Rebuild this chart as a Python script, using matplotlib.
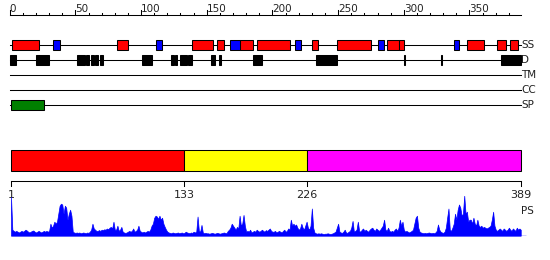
import matplotlib
matplotlib.use('Agg')
import matplotlib.pyplot as plt
from matplotlib.patches import Rectangle
import numpy as np

# sequence length and feature tracks (residue coordinates)
seq_len = 389
ss_helix = [(2, 22), (82, 90), (139, 155), (158, 163), (175, 185), (188, 213),
            (230, 235), (249, 275), (287, 296), (296, 300), (348, 361),
            (371, 378), (381, 387)]
ss_strand = [(33, 38), (111, 116), (168, 175), (217, 222), (280, 285), (338, 342)]
disorder = [(0, 5), (20, 30), (51, 57), (58, 60), (62, 64), (65, 67), (69, 71),
            (101, 108), (123, 125), (126, 127), (130, 135), (136, 139), (153, 156),
            (159, 161), (185, 192), (233, 249), (300, 301), (328, 329), (374, 389)]
tm = []
cc = []
signal = [(1, 26)]
track_names = ['SS', 'D', 'TM', 'CC', 'SP']

# domains
domain_bounds = [1, 133, 226, 389]
domain_colors = ['#ff0000', '#ffff00', '#ff00ff']

# PS score per residue
ps = [0.97, 0.15, 0.12, 0.10, 0.12, 0.10, 0.08, 0.10, 0.12, 0.10,
      0.12, 0.15, 0.13, 0.10, 0.08, 0.10, 0.12, 0.13, 0.10, 0.08,
      0.10, 0.12, 0.10, 0.08, 0.10, 0.12, 0.10, 0.12, 0.10, 0.12,
      0.30, 0.20, 0.25, 0.35, 0.30, 0.35, 0.55, 0.75, 0.80, 0.78,
      0.55, 0.75, 0.70, 0.40, 0.55, 0.65, 0.50, 0.10, 0.08, 0.07,
      0.08, 0.07, 0.08, 0.06, 0.07, 0.08, 0.07, 0.06, 0.08, 0.07,
      0.10, 0.15, 0.30, 0.18, 0.15, 0.12, 0.12, 0.14, 0.12, 0.15,
      0.14, 0.16, 0.15, 0.18, 0.16, 0.20, 0.22, 0.18, 0.35, 0.15,
      0.15, 0.25, 0.12, 0.15, 0.22, 0.10, 0.08, 0.07, 0.08, 0.10,
      0.12, 0.10, 0.12, 0.18, 0.10, 0.12, 0.15, 0.25, 0.12, 0.10,
      0.08, 0.10, 0.08, 0.10, 0.12, 0.10, 0.15, 0.25, 0.30, 0.45,
      0.50, 0.48, 0.42, 0.50, 0.40, 0.45, 0.30, 0.22, 0.15, 0.10,
      0.08, 0.07, 0.06, 0.08, 0.07, 0.06, 0.07, 0.08, 0.06, 0.07,
      0.08, 0.06, 0.07, 0.10, 0.08, 0.07, 0.06, 0.08, 0.07, 0.10,
      0.08, 0.10, 0.48, 0.12, 0.10, 0.27, 0.08, 0.06, 0.07, 0.06,
      0.06, 0.05, 0.06, 0.07, 0.06, 0.05, 0.06, 0.07, 0.06, 0.05,
      0.06, 0.07, 0.08, 0.07, 0.06, 0.12, 0.15, 0.20, 0.30, 0.25,
      0.20, 0.15, 0.22, 0.18, 0.50, 0.25, 0.30, 0.52, 0.25, 0.10,
      0.12, 0.10, 0.15, 0.08, 0.10, 0.12, 0.10, 0.15, 0.12, 0.10,
      0.12, 0.15, 0.12, 0.10, 0.14, 0.12, 0.15, 0.18, 0.12, 0.10,
      0.10, 0.12, 0.08, 0.10, 0.12, 0.10, 0.08, 0.12, 0.15, 0.10,
      0.12, 0.18, 0.15, 0.40, 0.25, 0.30, 0.25, 0.28, 0.20, 0.15,
      0.18, 0.30, 0.20, 0.15, 0.25, 0.35, 0.20, 0.15, 0.25, 0.68,
      0.20, 0.08, 0.06, 0.05, 0.06, 0.05, 0.06, 0.05, 0.04, 0.05,
      0.05, 0.06, 0.05, 0.04, 0.05, 0.06, 0.08, 0.10, 0.20, 0.30,
      0.10, 0.08, 0.07, 0.10, 0.15, 0.08, 0.07, 0.10, 0.12, 0.20,
      0.37, 0.10, 0.12, 0.15, 0.35, 0.12, 0.10, 0.15, 0.18, 0.12,
      0.15, 0.12, 0.10, 0.15, 0.18, 0.20, 0.15, 0.12, 0.18, 0.15,
      0.12, 0.15, 0.20, 0.25, 0.40, 0.15, 0.12, 0.20, 0.12, 0.10,
      0.12, 0.10, 0.15, 0.18, 0.12, 0.20, 0.40, 0.25, 0.35, 0.15,
      0.10, 0.12, 0.10, 0.08, 0.10, 0.12, 0.15, 0.30, 0.45, 0.50,
      0.20, 0.10, 0.08, 0.07, 0.06, 0.07, 0.06, 0.07, 0.08, 0.07,
      0.06, 0.07, 0.06, 0.08, 0.12, 0.28, 0.15, 0.10, 0.08, 0.07,
      0.10, 0.20, 0.45, 0.68, 0.15, 0.12, 0.20, 0.30, 0.55, 0.40,
      0.65, 0.78, 0.70, 0.50, 0.55, 1.00, 0.55, 0.60, 0.35, 0.40,
      0.40, 0.30, 0.45, 0.30, 0.25, 0.40, 0.25, 0.22, 0.25, 0.20,
      0.22, 0.20, 0.18, 0.20, 0.22, 0.25, 0.40, 0.60, 0.25, 0.15,
      0.12, 0.15, 0.18, 0.15, 0.12, 0.18, 0.15, 0.12, 0.15, 0.20,
      0.15, 0.12, 0.18, 0.15, 0.12, 0.20, 0.15, 0.18, 0.15]
residues = np.arange(1, len(ps) + 1)

W, H = 550, 260
px_per_res = 1.3137
x0 = -9.7 / px_per_res
x1 = x0 + W / px_per_res
lw = 0.75

fig = plt.figure(figsize=(W / 100, H / 100), dpi=100)
ax = fig.add_axes([0, 0, 1, 1])
ax.set_xlim(x0, x1)
ax.set_ylim(H, 0)
ax.axis('off')

# top ruler
ruler_y = 15
ax.plot([0, seq_len], [ruler_y, ruler_y], color='black', lw=lw)
for t in range(0, seq_len, 10):
    big = t % 50 == 0
    ax.plot([t, t], [ruler_y, ruler_y - (5 if big else 2.5)], color='black', lw=lw)
    if big:
        ax.text(t, 11.5, str(t), ha='left', va='baseline', fontsize=7.5,
                color='#222222')

# tracks
track_y = [45, 60, 75, 90, 105]
track_boxes = [[(s, e, '#ff0000') for s, e in ss_helix] + [(s, e, '#0000ff') for s, e in ss_strand],
               [(s, e, '#000000') for s, e in disorder],
               [(s, e, '#000000') for s, e in tm],
               [(s, e, '#000000') for s, e in cc],
               [(s, e, '#008000') for s, e in signal]]
for name, y, boxes in zip(track_names, track_y, track_boxes):
    ax.plot([0, seq_len], [y, y], color='black', lw=lw, zorder=1)
    for s, e, c in boxes:
        ax.add_patch(Rectangle((s, y - 5), e - s, 10, facecolor=c,
                               edgecolor='black', lw=lw, zorder=2))
    ax.text(seq_len + 0.3, y, name, ha='left', va='center', fontsize=7.5, color='#222222')

# domain bar
for s, e, c in zip(domain_bounds[:-1], domain_bounds[1:], domain_colors):
    ax.add_patch(Rectangle((s, 150), e - s, 20.5, facecolor=c, edgecolor='black', lw=lw))

# bottom ruler
ax.plot([domain_bounds[0], domain_bounds[-1]], [180.7, 180.7], color='black', lw=lw)
for b in domain_bounds:
    ax.plot([b, b], [180.7, 185.7], color='black', lw=lw)
    ax.text(b, 195.5, str(b), ha='center', va='center', fontsize=8, color='#222222')
ax.text(seq_len + 0.5, 211, 'PS', ha='left', va='center', fontsize=7.5, color='#222222')

# PS profile
ax_ps = fig.add_axes([0, (H - 235.7) / H, 1, 40 / H])
ax_ps.set_xlim(x0, x1)
ax_ps.set_ylim(0, 1)
ax_ps.axis('off')
ax_ps.fill_between(residues, 0, ps, color='#0000ff', lw=0.5)
ax_ps.hlines(0, residues[0], residues[-1] + 4, color='#0000ff', lw=1)

fig.savefig('out.png', dpi=100)
